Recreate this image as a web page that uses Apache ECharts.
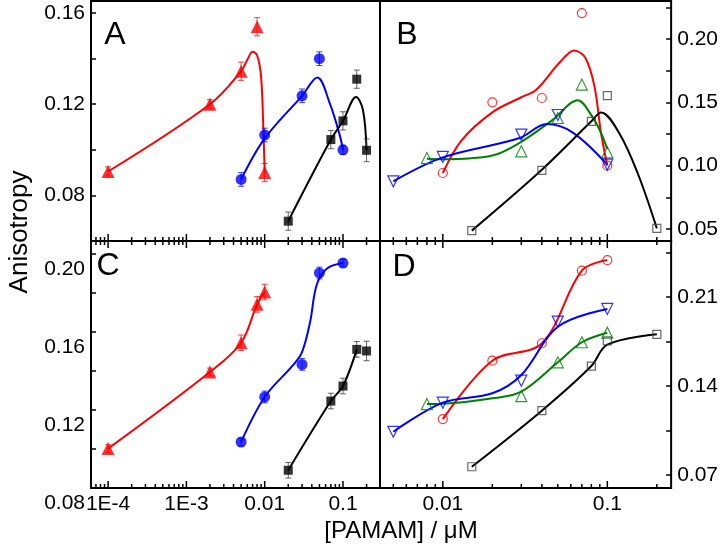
<!DOCTYPE html>
<html>
<head>
<meta charset="utf-8">
<script src="https://cdn.jsdelivr.net/npm/echarts@6/dist/echarts.min.js"></script>
<style>
  html, body { margin: 0; padding: 0; background: #fff; }
  #chart { width: 721px; height: 546px; }
</style>
</head>
<body>
<div id="chart"></div>
<script>
const FONT = 'Liberation Sans, Arial, sans-serif';

// x axes (log)
const leftXRange = [6.05e-5, 0.297];
const rightXRange = [0.00415, 0.2443];
const leftMajorTicks = [1e-4, 1e-3, 0.01, 0.1];
const leftMinorTicks = [7e-5, 8e-5, 9e-5, 2e-4, 3e-4, 4e-4, 5e-4, 6e-4, 7e-4, 8e-4, 9e-4,
  0.002, 0.003, 0.004, 0.005, 0.006, 0.007, 0.008, 0.009,
  0.02, 0.03, 0.04, 0.05, 0.06, 0.07, 0.08, 0.09, 0.2];
const rightMajorTicks = [0.01, 0.1];
const rightMinorTicks = [0.005, 0.006, 0.007, 0.008, 0.009,
  0.02, 0.03, 0.04, 0.05, 0.06, 0.07, 0.08, 0.09, 0.2];
const xTickLabels = { '-4': '1E-4', '-3': '1E-3', '-2': '0.01', '-1': '0.1' };

// y axes
const yRangeA = [0.06, 0.1653];
const yTicksA = [0.08, 0.10, 0.12, 0.14, 0.16];
const yLabelsA = [0.08, 0.12, 0.16];
const yRangeB = [0.0405, 0.230];
const yTicksB = [0.05, 0.075, 0.10, 0.125, 0.15, 0.175, 0.20, 0.225];
const yLabelsB = [0.05, 0.10, 0.15, 0.20];
const yRangeC = [0.08, 0.2067];
const yTicksC = [0.08, 0.10, 0.12, 0.14, 0.16, 0.18, 0.20];
const yLabelsC = [0.08, 0.12, 0.16, 0.20];
const yRangeD = [0.0598, 0.254];
const yTicksD = [0.07, 0.105, 0.14, 0.175, 0.21, 0.245];
const yLabelsD = [0.07, 0.14, 0.21];

// Panel A
const aRed = [[1e-4, 0.0905], [0.002, 0.120], [0.005, 0.1345], [0.008, 0.154], [0.01, 0.090]];
const aRedErr = [0.002, 0.002, 0.004, 0.004, 0.004];
const aRedFit = [[1e-4, 0.0905], [0.002, 0.120], [0.005, 0.1345], [0.006, 0.1395], [0.007, 0.143],
  [0.008, 0.1415], [0.009, 0.132], [0.0097, 0.105], [0.01, 0.090]];
const aBlue = [[0.005, 0.087], [0.01, 0.1065], [0.03, 0.1237], [0.05, 0.140], [0.1, 0.100]];
const aBlueErr = [0.003, 0.003, 0.003, 0.003, 0.002];
const aBlueFit = [[0.005, 0.087], [0.01, 0.105], [0.03, 0.1237], [0.047, 0.1317], [0.068, 0.1203],
  [0.09, 0.107], [0.1, 0.100]];
const aBlack = [[0.02, 0.0687], [0.07, 0.1045], [0.1, 0.1127], [0.15, 0.131], [0.2, 0.0998]];
const aBlackErr = [0.004, 0.004, 0.004, 0.004, 0.005];
const aBlackFit = [[0.02, 0.0687], [0.07, 0.1045], [0.1, 0.1127], [0.147, 0.1232], [0.18, 0.1174], [0.2, 0.0998]];

// Panel B
const bRed = [[0.01, 0.0942], [0.02, 0.150], [0.04, 0.1534], [0.07, 0.2205], [0.1, 0.100]];
const bRedFit = [[0.01, 0.0942], [0.013, 0.12], [0.02, 0.1421], [0.03, 0.154], [0.037, 0.16], [0.051, 0.181],
  [0.063, 0.191], [0.0736, 0.185], [0.0834, 0.163], [0.0916, 0.1258], [0.1, 0.100]];
const bGreen = [[0.008, 0.106], [0.03, 0.1113], [0.05, 0.1376], [0.07, 0.164], [0.1, 0.1105]];
const bGreenFit = [[0.008, 0.1055], [0.01, 0.105], [0.02, 0.108], [0.0293, 0.118], [0.0467, 0.1363],
  [0.066, 0.1516], [0.081, 0.1387], [0.0916, 0.1258], [0.1, 0.113]];
const bBlue = [[0.005, 0.0876], [0.01, 0.1069], [0.03, 0.1245], [0.05, 0.140], [0.1, 0.1008]];
const bBlueFit = [[0.005, 0.0876], [0.01, 0.1065], [0.0293, 0.1218], [0.0428, 0.1329], [0.0614, 0.1263], [0.1, 0.1008]];
const bBlack = [[0.015, 0.0487], [0.04, 0.0963], [0.08, 0.135], [0.1, 0.1553], [0.2, 0.0505]];
const bBlackFit = [[0.015, 0.0487], [0.04, 0.0968], [0.08, 0.135], [0.0916, 0.142], [0.118, 0.1258],
  [0.153, 0.094], [0.2, 0.0505]];

// Panel C
const cRed = [[1e-4, 0.1002], [0.002, 0.1395], [0.005, 0.1545], [0.008, 0.1742], [0.01, 0.1805]];
const cRedErr = [0.002, 0.002, 0.004, 0.004, 0.004];
const cBlue = [[0.005, 0.1036], [0.01, 0.1267], [0.03, 0.1434], [0.05, 0.1903], [0.1, 0.1954]];
const cBlueErr = [0.002, 0.003, 0.003, 0.003, 0.002];
const cBlueFit = [[0.005, 0.1036], [0.01, 0.1267], [0.023, 0.143], [0.03, 0.1497], [0.038, 0.1651],
  [0.046, 0.184], [0.062, 0.1925], [0.1, 0.1954]];
const cBlack = [[0.02, 0.0891], [0.07, 0.1246], [0.1, 0.1323], [0.15, 0.1511], [0.2, 0.1503]];
const cBlackErr = [0.004, 0.004, 0.004, 0.004, 0.005];
const cBlackFit = [[0.02, 0.0891], [0.07, 0.1246], [0.1, 0.1323], [0.15, 0.1511]];

// Panel D
const dRed = [[0.01, 0.114], [0.02, 0.1599], [0.04, 0.1736], [0.07, 0.2307], [0.1, 0.239]];
const dBlue = [[0.005, 0.104], [0.01, 0.1269], [0.03, 0.1442], [0.05, 0.1906], [0.1, 0.2006]];
const dBlueFit = [[0.005, 0.104], [0.01, 0.1269], [0.02, 0.1343], [0.03, 0.1487], [0.05, 0.1866], [0.1, 0.2006]];
const dGreen = [[0.008, 0.1258], [0.03, 0.1321], [0.05, 0.1586], [0.07, 0.1744], [0.1, 0.1819]];
const dGreenFit = [[0.008, 0.1258], [0.01, 0.126], [0.02, 0.1303], [0.03, 0.1355], [0.05, 0.1586],
  [0.07, 0.1744], [0.1, 0.1819]];
const dBlack = [[0.015, 0.0765], [0.04, 0.1206], [0.08, 0.1557], [0.1, 0.1754], [0.2, 0.1806]];
const dBlackFit = [[0.015, 0.0765], [0.04, 0.1206], [0.08, 0.1557], [0.1, 0.1725], [0.2, 0.1806]];

const RED = '#ff0000', BLUE = '#0000ff', BLACK = '#000000', GREEN = '#008000';

const chart = echarts.init(document.getElementById('chart'));
const series = [];

function fitLine(gi, pts, color) {
  series.push({
    type: 'line', xAxisIndex: gi, yAxisIndex: gi, data: pts, showSymbol: false,
    smooth: 0.35, silent: true, z: 2,
    lineStyle: { color: color, width: 2 }
  });
}

function errBars(gi, pts, errs, color) {
  series.push({
    type: 'custom', xAxisIndex: gi, yAxisIndex: gi, silent: true, z: 3,
    data: pts.map((p, i) => [p[0], p[1] - errs[i], p[1] + errs[i]]),
    renderItem: (params, api) => {
      const lo = api.coord([api.value(0), api.value(1)]);
      const hi = api.coord([api.value(0), api.value(2)]);
      const st = { stroke: color, lineWidth: 1, opacity: 0.75 };
      return {
        type: 'group', children: [
          { type: 'line', shape: { x1: lo[0], y1: lo[1], x2: hi[0], y2: hi[1] }, style: st },
          { type: 'line', shape: { x1: lo[0] - 3, y1: lo[1], x2: lo[0] + 3, y2: lo[1] }, style: st },
          { type: 'line', shape: { x1: hi[0] - 3, y1: hi[1], x2: hi[0] + 3, y2: hi[1] }, style: st }
        ]
      };
    }
  });
}

function points(gi, pts, color, symbol, size, hollow, rotate) {
  series.push({
    type: 'scatter', xAxisIndex: gi, yAxisIndex: gi, data: pts, symbol: symbol,
    symbolSize: size, symbolRotate: rotate || 0, silent: true, z: 4,
    itemStyle: hollow
      ? { color: 'rgba(255,255,255,0)', borderColor: color, borderWidth: 1.2 }
      : { color: color }
  });
}

// tick marks on the log axes, drawn as thin rects so they can cross the divider
function xTicks(gi, ticks, yVal, dir, len) {
  series.push({
    type: 'custom', xAxisIndex: gi, yAxisIndex: gi, silent: true, clip: false, z: 5,
    data: ticks.map(v => [v, yVal]),
    renderItem: (params, api) => {
      const p = api.coord([api.value(0), api.value(1)]);
      return {
        type: 'rect',
        shape: { x: p[0] - 0.75, y: dir < 0 ? p[1] - len : p[1], width: 1.5, height: len },
        style: { fill: '#000' }
      };
    }
  });
}

// Panel A
fitLine(0, aRedFit, RED); errBars(0, aRed, aRedErr, RED); points(0, aRed, RED, 'triangle', 13);
fitLine(0, aBlueFit, BLUE); errBars(0, aBlue, aBlueErr, BLUE); points(0, aBlue, BLUE, 'circle', 11);
fitLine(0, aBlackFit, BLACK); errBars(0, aBlack, aBlackErr, '#333'); points(0, aBlack, BLACK, 'rect', 9);
// Panel B
fitLine(1, bRedFit, RED); points(1, bRed, RED, 'circle', 9, true);
fitLine(1, bGreenFit, GREEN); points(1, bGreen, GREEN, 'triangle', 11, true);
fitLine(1, bBlueFit, BLUE); points(1, bBlue, BLUE, 'triangle', 11, true, 180);
fitLine(1, bBlackFit, BLACK); points(1, bBlack, '#444', 'rect', 8, true);
// Panel C
fitLine(2, cRed, RED); errBars(2, cRed, cRedErr, RED); points(2, cRed, RED, 'triangle', 13);
fitLine(2, cBlueFit, BLUE); errBars(2, cBlue, cBlueErr, BLUE); points(2, cBlue, BLUE, 'circle', 11);
fitLine(2, cBlackFit, BLACK); errBars(2, cBlack, cBlackErr, '#333'); points(2, cBlack, BLACK, 'rect', 9);
// Panel D
fitLine(3, dRed, RED); points(3, dRed, RED, 'circle', 9, true);
fitLine(3, dGreenFit, GREEN); points(3, dGreen, GREEN, 'triangle', 11, true);
fitLine(3, dBlueFit, BLUE); points(3, dBlue, BLUE, 'triangle', 11, true, 180);
fitLine(3, dBlackFit, BLACK); points(3, dBlack, '#444', 'rect', 8, true);

// x ticks (major / minor), crossing the middle divider
xTicks(0, leftMajorTicks, yRangeA[0], -1, 7); xTicks(0, leftMinorTicks, yRangeA[0], -1, 4);
xTicks(2, leftMajorTicks, yRangeC[1], 1, 7); xTicks(2, leftMinorTicks, yRangeC[1], 1, 4);
xTicks(2, leftMajorTicks, yRangeC[0], -1, 7); xTicks(2, leftMinorTicks, yRangeC[0], -1, 4);
xTicks(1, rightMajorTicks, yRangeB[0], -1, 7); xTicks(1, rightMinorTicks, yRangeB[0], -1, 4);
xTicks(3, rightMajorTicks, yRangeD[1], 1, 7); xTicks(3, rightMinorTicks, yRangeD[1], 1, 4);
xTicks(3, rightMajorTicks, yRangeD[0], -1, 7); xTicks(3, rightMinorTicks, yRangeD[0], -1, 4);

function xAxis(gi, range, showLabel) {
  return {
    type: 'log', logBase: 10, gridIndex: gi, min: range[0], max: range[1],
    axisLine: { show: false }, axisTick: { show: false }, splitLine: { show: false },
    axisLabel: {
      show: showLabel, margin: 6, color: '#000', fontFamily: FONT, fontSize: 21,
      formatter: v => {
        const e = Math.log10(v);
        if (Math.abs(e - Math.round(e)) > 1e-6) return '';
        return xTickLabels[String(Math.round(e))] || '';
      }
    }
  };
}

function yAxis(gi, range, ticks, labels, pos, shifted) {
  const label = {
    customValues: labels, margin: 6, color: '#000', fontFamily: FONT, fontSize: 21,
    formatter: v => v.toFixed(2)
  };
  if (shifted) {
    // labels of panel C sit ~15 px below their ticks in the original
    label.verticalAlign = 'top';
    label.lineHeight = 21;
    label.padding = [5, 0, 0, 0];
  }
  return {
    type: 'value', gridIndex: gi, min: range[0], max: range[1], position: pos,
    axisLine: { show: false }, splitLine: { show: false },
    axisTick: { show: true, inside: true, length: 5, customValues: ticks, lineStyle: { color: '#000', width: 1.5 } },
    axisLabel: label
  };
}

const option = {
  animation: false,
  backgroundColor: '#fff',
  grid: [
    { left: 91, top: 1, width: 289, height: 240 },
    { left: 380, top: 1, width: 292, height: 240 },
    { left: 91, top: 241, width: 289, height: 247 },
    { left: 380, top: 241, width: 292, height: 247 }
  ].map(g => Object.assign(g, { show: true, borderColor: '#000', borderWidth: 2, backgroundColor: 'transparent' })),
  xAxis: [
    xAxis(0, leftXRange, false),
    xAxis(1, rightXRange, false),
    xAxis(2, leftXRange, true),
    xAxis(3, rightXRange, true)
  ],
  yAxis: [
    yAxis(0, yRangeA, yTicksA, yLabelsA, 'left', false),
    yAxis(1, yRangeB, yTicksB, yLabelsB, 'right', false),
    yAxis(2, yRangeC, yTicksC, yLabelsC, 'left', true),
    yAxis(3, yRangeD, yTicksD, yLabelsD, 'right', false)
  ],
  graphic: [
    { type: 'text', x: 115, y: 35, style: { text: 'A', font: '32px ' + FONT, fill: '#000', align: 'center', verticalAlign: 'middle' } },
    { type: 'text', x: 407, y: 35, style: { text: 'B', font: '32px ' + FONT, fill: '#000', align: 'center', verticalAlign: 'middle' } },
    { type: 'text', x: 108, y: 266, style: { text: 'C', font: '32px ' + FONT, fill: '#000', align: 'center', verticalAlign: 'middle' } },
    { type: 'text', x: 404, y: 267, style: { text: 'D', font: '32px ' + FONT, fill: '#000', align: 'center', verticalAlign: 'middle' } },
    { type: 'text', x: 20, y: 232, rotation: Math.PI / 2, style: { text: 'Anisotropy', font: '26px ' + FONT, fill: '#000', align: 'center', verticalAlign: 'middle' } },
    { type: 'text', x: 401, y: 531, style: { text: '[PAMAM] / μM', font: '24px ' + FONT, fill: '#000', align: 'center', verticalAlign: 'middle' } }
  ],
  series: series
};

chart.setOption(option);
</script>
</body>
</html>
